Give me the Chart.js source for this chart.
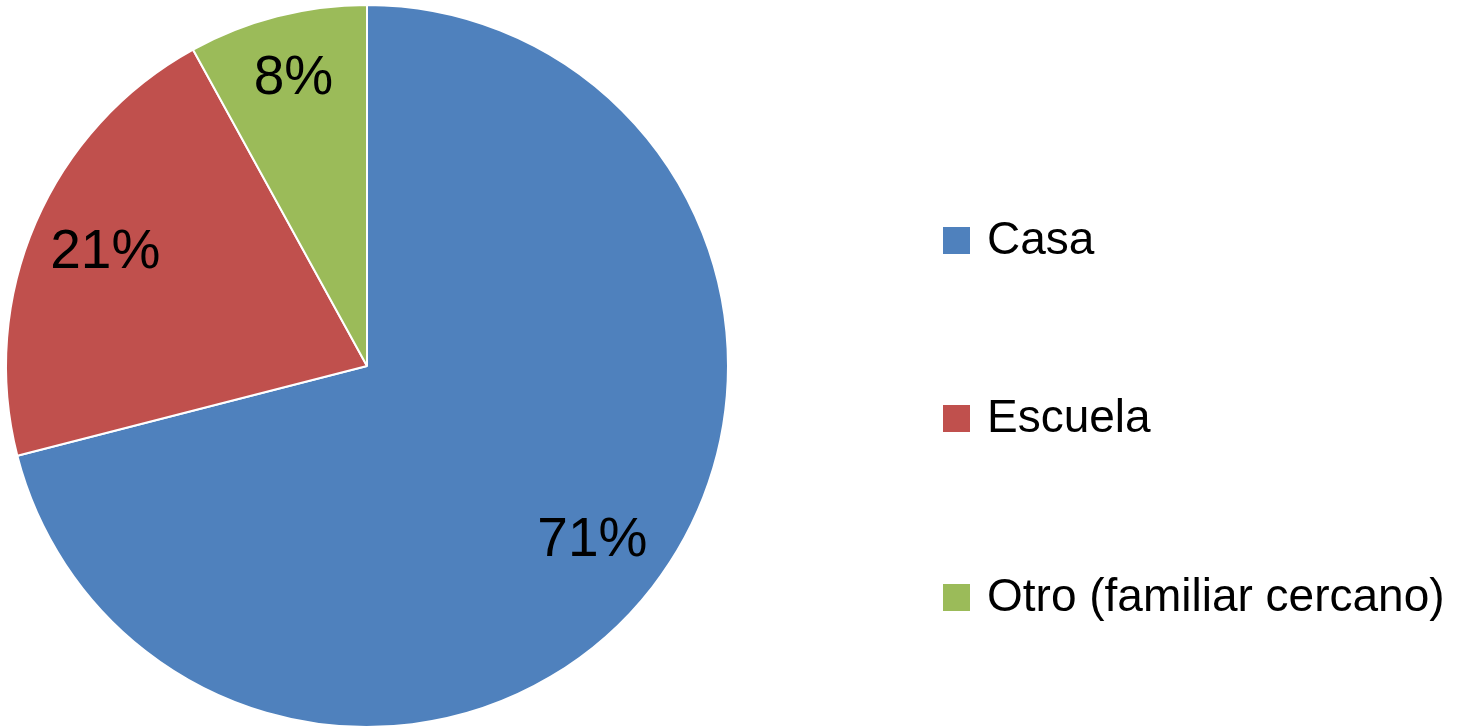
<!DOCTYPE html>
<html lang="es">
<head>
<meta charset="UTF-8">
<title>Pie</title>
<style>
  html, body { margin: 0; padding: 0; background: #fff; }
  #wrap { width: 1479px; height: 728px; }
</style>
</head>
<body>
<div id="wrap"><canvas id="myChart" width="1479" height="728"></canvas></div>
<script src="https://cdn.jsdelivr.net/npm/chart.js"></script>
<script>
  // datos
  const categorias = ["Casa", "Escuela", "Otro (familiar cercano)"];
  const valores = [71, 21, 8];
  const colores = ["#4F81BD", "#C0504D", "#9BBB59"];

  const fuente = "'Liberation Sans', 'DejaVu Sans', sans-serif";

  // etiquetas de porcentaje dentro de cada sector
  const etiquetas = {
    id: "etiquetas",
    afterDatasetsDraw(chart) {
      const ctx = chart.ctx;
      const meta = chart.getDatasetMeta(0);
      const total = valores.reduce((a, b) => a + b, 0);
      ctx.save();
      ctx.font = "55px " + fuente;
      ctx.fillStyle = "#000";
      ctx.textAlign = "center";
      ctx.textBaseline = "middle";
      meta.data.forEach((arc, i) => {
        const p = arc.getProps(["x", "y", "startAngle", "endAngle", "outerRadius"], true);
        const mid = (p.startAngle + p.endAngle) / 2;
        const f = i === 2 ? 0.82 : 0.79;
        const r = p.outerRadius * f;
        const txt = Math.round(valores[i] / total * 100) + "%";
        ctx.fillText(txt, p.x + Math.cos(mid) * r, p.y + Math.sin(mid) * r);
      });
      ctx.restore();
    }
  };

  // leyenda a la derecha
  const leyenda = {
    id: "leyenda",
    afterDraw(chart) {
      const ctx = chart.ctx;
      const ys = [240, 418, 597];
      ctx.save();
      ctx.font = "46px " + fuente;
      ctx.textBaseline = "middle";
      categorias.forEach((c, i) => {
        ctx.fillStyle = colores[i];
        ctx.fillRect(943, ys[i] - 13, 27, 27);
        ctx.fillStyle = "#000";
        ctx.fillText(c, 987, ys[i] + 1);
      });
      ctx.restore();
    }
  };

  new Chart(document.getElementById("myChart"), {
    type: "pie",
    data: {
      labels: categorias,
      datasets: [{
        data: valores,
        backgroundColor: colores,
        borderColor: "#ffffff",
        borderWidth: 2
      }]
    },
    options: {
      responsive: false,
      animation: false,
      layout: { padding: { left: 5, right: 750, top: 4, bottom: 0 } },
      plugins: {
        legend: { display: false },
        tooltip: { enabled: false }
      }
    },
    plugins: [etiquetas, leyenda]
  });
</script>
</body>
</html>
